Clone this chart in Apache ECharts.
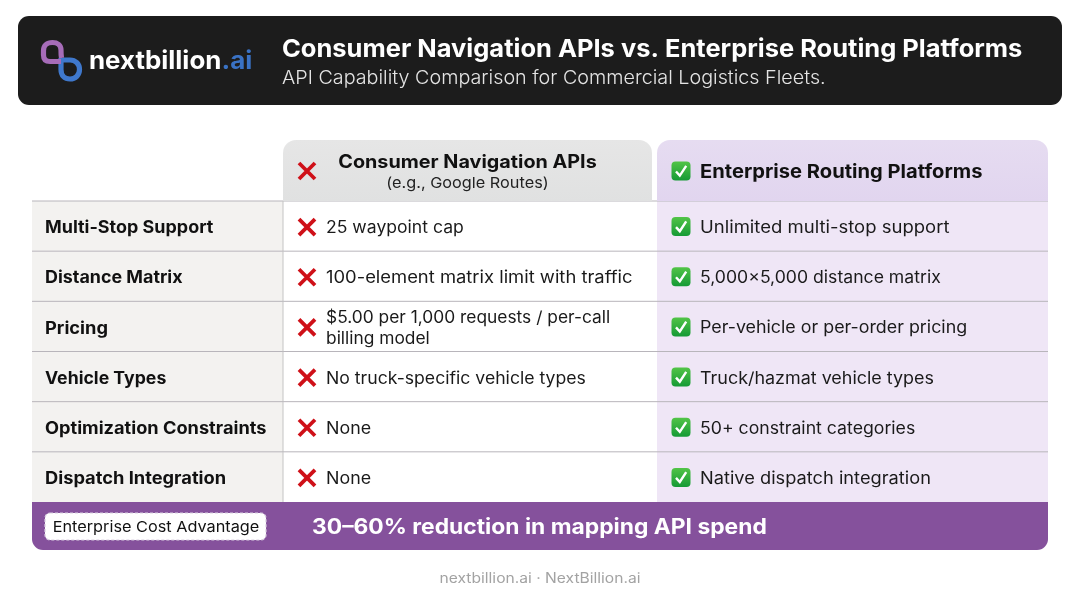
<!DOCTYPE html>
<html>
<head>
<meta charset="utf-8">
<title>Consumer Navigation APIs vs. Enterprise Routing Platforms</title>
<script src="https://cdn.jsdelivr.net/npm/echarts@6/dist/echarts.min.js"></script>
<style>html,body{margin:0;padding:0;background:#fff}</style>
</head>
<body>
<div id="my" style="width:1080px;height:603px;"></div>
<script>
var features = ['Multi-Stop Support', 'Distance Matrix', 'Pricing', 'Vehicle Types', 'Optimization Constraints', 'Dispatch Integration'];
var consumerValues = ['25 waypoint cap', '100-element matrix limit with traffic', '$5.00 per 1,000 requests / per-call\nbilling model', 'No truck-specific vehicle types', 'None', 'None'];
var enterpriseValues = ['Unlimited multi-stop support', '5,000×5,000 distance matrix', 'Per-vehicle or per-order pricing', 'Truck/hazmat vehicle types', '50+ constraint categories', 'Native dispatch integration'];
var titleText = 'Consumer Navigation APIs vs. Enterprise Routing Platforms';
var subtitleText = 'API Capability Comparison for Commercial Logistics Fleets.';
var consumerHead = 'Consumer Navigation APIs';
var consumerSub = '(e.g., Google Routes)';
var enterpriseHead = 'Enterprise Routing Platforms';
var bannerLabel = 'Enterprise Cost Advantage';
var bannerText = '30–60% reduction in mapping API spend';
var footerText = 'nextbillion.ai · NextBillion.ai';

var FONT = 'Inter';
// Inter is narrower than the picture's face, so each cell gets its own stretch
var featureFit = [1.056, 1.052, 1.075, 1.04, 1.07, 1.075];
var consumerFit = [1.06, 1.108, 1.046, 1.063, 1.075, 1.075];
var enterpriseFit = [1.115, 1.062, 1.075, 1.08, 1.065, 1.099];

function txt(x, y, s, size, weight, color, fit, align) {
	return {
		type: 'text', x: x, y: y, scaleX: fit, z2: 10,
		style: {
			x: 0, y: 0, text: s, fontFamily: FONT, fontSize: size, fontWeight: weight, fill: color,
			align: align || 'left', verticalAlign: 'middle', lineHeight: 21
		}
	};
}
function grad(a, b) {
	return new echarts.graphic.LinearGradient(0, 0, 0, 1, [{offset: 0, color: a}, {offset: 1, color: b}]);
}
function cross(cx, cy) {
	return {
		type: 'path', z2: 10,
		shape: {pathData: 'M' + (cx - 8) + ' ' + (cy - 8) + 'L' + (cx + 8) + ' ' + (cy + 8) + 'M' + (cx + 8) + ' ' + (cy - 8) + 'L' + (cx - 8) + ' ' + (cy + 8)},
		style: {fill: null, stroke: '#cf1018', lineWidth: 3.8}
	};
}
function check(cx, cy) {
	return {
		type: 'group',
		children: [
			{type: 'rect', z2: 10, shape: {x: cx - 9.5, y: cy - 9.5, width: 19, height: 19, r: 4}, style: {fill: grad('#52c447', '#159a35')}},
			{type: 'path', z2: 11, shape: {pathData: 'M' + (cx - 5) + ' ' + (cy + 0.5) + 'L' + (cx - 1.2) + ' ' + (cy + 4.6) + 'L' + (cx + 5.2) + ' ' + (cy - 5.2)}, style: {fill: null, stroke: '#fff', lineWidth: 2.4}}
		]
	};
}

var myChart = echarts.init(document.getElementById('my'), null, {renderer: 'canvas'});

// column edges in px from the grid's left side
var colLeft = 0, colMid = 251, colRight = 625, colEnd = 1016;

function renderRow(params, api) {
	var i = api.value(0);
	var h = api.size([0, 1])[1];
	var cy = api.coord([0, i])[1];
	var top = cy - h / 2;
	var bottom = top + h;
	var ty = cy + 2;
	var x0 = api.coord([colLeft, i])[0];
	var x1 = api.coord([colMid, i])[0];
	var x2 = api.coord([colRight, i])[0];
	var x3 = api.coord([colEnd, i])[0];
	return {type: 'group', children: [
		{type: 'rect', shape: {x: x0, y: top, width: x1 - x0, height: h}, style: {fill: '#f3f2f0'}},
		{type: 'rect', shape: {x: x1, y: top, width: x2 - x1, height: h}, style: {fill: '#fff'}},
		{type: 'rect', shape: {x: x2, y: top, width: x3 - x2, height: h}, style: {fill: '#efe6f6'}},
		{type: 'line', z2: 5, shape: {x1: x0, y1: top, x2: x3, y2: top}, style: {stroke: '#b8b5bb', lineWidth: 1}},
		{type: 'line', z2: 5, shape: {x1: x1, y1: top, x2: x1, y2: bottom}, style: {stroke: '#c4c4c4', lineWidth: 1}},
		txt(x0 + 13, ty, features[i], 17, 700, '#111', featureFit[i]),
		cross(x1 + 24, cy + 1),
		txt(x1 + 43, ty, consumerValues[i], 16.6, 400, '#1a1a1a', consumerFit[i]),
		check(x2 + 24, cy + 0.5),
		txt(x2 + 43, ty, enterpriseValues[i], 16.6, 400, '#1a1a1a', enterpriseFit[i])
	]};
}

// page furniture: dark title bar, column heads, cost banner, footer
function renderFrame() {
	return {type: 'group', children: [
		{type: 'rect', shape: {x: 18, y: 16, width: 1044, height: 89, r: 11}, style: {fill: '#1c1c1c'}},
		{type: 'path', z2: 2, shape: {pathData: 'M61 58 L61 69.5 C61 75.5 64.5 79 70 79 C75.5 79 79.5 75 79.5 69.5 C79.5 64 75.5 60 70 60 L63 60'}, style: {fill: null, stroke: '#3f78cc', lineWidth: 5.2}},
		{type: 'path', z2: 3, shape: {pathData: 'M61.5 58 C61 55 61 53 61 50 C61 45 57.5 42.5 52.5 42.5 C47 42.5 43.5 45.5 43.5 50.5 L43.5 55 C43.5 59 45.5 61.5 50 61.5 L61 61.5'}, style: {fill: null, stroke: '#a66cb8', lineWidth: 5.2}},
		txt(89, 61, 'nextbillion', 25, 700, '#fff', 1.036),
		txt(221.5, 61, '.ai', 25, 700, '#3a72c4', 1.04),
		txt(282, 49.5, titleText, 24.5, 700, '#fff', 1.04),
		txt(282, 78.5, subtitleText, 18.5, 300, '#e4e4e4', 1.067),
		{type: 'rect', shape: {x: 283, y: 140, width: 369, height: 61, r: [13, 13, 0, 0]}, style: {fill: grad('#e6e6e6', '#e0e1e1')}},
		{type: 'rect', shape: {x: 657, y: 140, width: 391, height: 61, r: [13, 13, 0, 0]}, style: {fill: grad('#e6dcf1', '#e1d5ef')}},
		cross(307, 171),
		txt(467.5, 162.5, consumerHead, 18.2, 700, '#111', 1.088, 'center'),
		txt(467.5, 183.5, consumerSub, 15, 400, '#222', 1.085, 'center'),
		check(681, 171),
		txt(700, 172, enterpriseHead, 18.6, 700, '#111', 1.083),
		{type: 'rect', z2: 6, shape: {x: 32, y: 502, width: 1016, height: 48, r: [0, 0, 11, 11]}, style: {fill: '#85519c'}},
		{type: 'rect', z2: 7, shape: {x: 45, y: 513, width: 221, height: 27, r: 5}, style: {fill: '#fff', stroke: '#d9cfe0', lineWidth: 1.2, lineDash: [3, 2]}},
		txt(156, 527.5, bannerLabel, 15, 400, '#111', 1.085, 'center'),
		txt(312, 527.5, bannerText, 21, 700, '#fff', 1.087),
		txt(540, 579, footerText, 14, 400, '#a3a3a3', 1.115, 'center')
	]};
}

var option = {
	animation: false,
	backgroundColor: '#fff',
	grid: {left: 32, top: 201, width: 1016, height: 301},
	xAxis: {type: 'value', min: 0, max: 1016, show: false},
	yAxis: {type: 'category', inverse: true, data: features, show: false},
	series: [
		{
			type: 'custom',
			coordinateSystem: 'cartesian2d',
			renderItem: renderRow,
			encode: {x: 1, y: 0},
			data: features.map(function (f, i) { return [i, 0]; }),
			silent: true,
			z: 2
		},
		{
			type: 'custom',
			coordinateSystem: 'none',
			renderItem: renderFrame,
			data: [0],
			silent: true,
			z: 3
		}
	]
};
myChart.setOption(option);
</script>
</body>
</html>
